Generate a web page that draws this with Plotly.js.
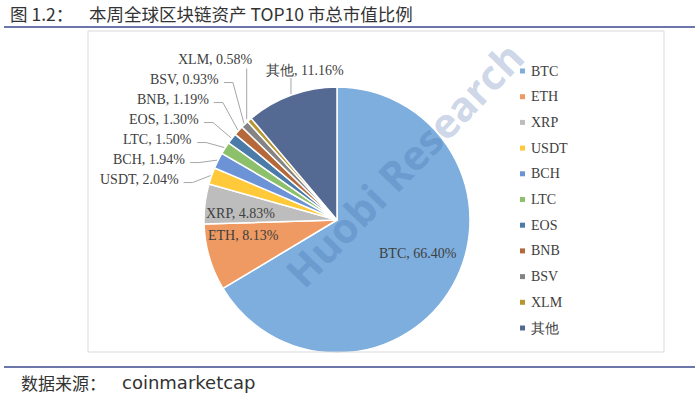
<!DOCTYPE html>
<html><head><meta charset="utf-8">
<script src="https://cdn.plot.ly/plotly-3.0.1.min.js"></script>
<style>html,body{margin:0;padding:0;background:#fff}#c{width:695px;height:397px}</style>
</head><body><div id="c"></div>
<script>
const labels = ['BTC','ETH','XRP','USDT','BCH','LTC','EOS','BNB','BSV','XLM','其他'];
const values = [66.40, 8.13, 4.83, 2.04, 1.94, 1.50, 1.30, 1.19, 0.93, 0.58, 11.16];
const colors = ['#7DAEDD','#EF9A62','#BDBDBD','#FFC93A','#6B93D6','#8DC06B','#4B7BA8','#B5693B','#848484','#B8962F','#556A93'];
const titlePrefix = '图 1.2：';
const titleText = '本周全球区块链资产 TOP10 市总市值比例';
const sourceLabel = '数据来源：';
const sourceName = 'coinmarketcap';

const W = 695, H = 397;
const px = x => x / W, py = y => 1 - y / H;
// pie geometry (pixels)
const CX = 337, CY = 220, R = 133;

const trace = {
  type: 'pie', labels: labels, values: values, sort: false,
  direction: 'clockwise', rotation: 0,
  marker: {colors: colors, line: {color: '#ffffff', width: 1.5}},
  textinfo: 'none', showlegend: false, hoverinfo: 'none',
  domain: {x: [px(CX - R), px(CX + R)], y: [py(CY + R), py(CY - R)]}
};

const labelFont = {family: 'Liberation Serif, serif', size: 14, color: '#404040'};
const titleFont = {family: 'Noto Sans CJK SC, sans-serif', size: 17.5, color: '#333333'};
const shapes = [
  {type: 'line', xref: 'paper', yref: 'paper', x0: px(4), x1: 1, y0: py(27), y1: py(27), line: {color: '#3B4A8C', width: 1.5}},
  {type: 'line', xref: 'paper', yref: 'paper', x0: px(4), x1: 1, y0: py(367), y1: py(367), line: {color: '#3B4A8C', width: 1.5}},
  {type: 'rect', xref: 'paper', yref: 'paper', x0: px(88), x1: px(664), y0: py(352), y1: py(31), line: {color: '#D9D9D9', width: 1}}
];
const annotations = [
  {xref: 'paper', yref: 'paper', x: px(8), y: py(14), xanchor: 'left', yanchor: 'middle', showarrow: false,
   text: titlePrefix, font: titleFont},
  {xref: 'paper', yref: 'paper', x: px(87), y: py(14), xanchor: 'left', yanchor: 'middle', showarrow: false,
   text: titleText, font: titleFont},
  {xref: 'paper', yref: 'paper', x: px(19), y: py(382), xanchor: 'left', yanchor: 'middle', showarrow: false,
   text: sourceLabel, font: {family: 'Noto Sans CJK SC, sans-serif', size: 17, color: '#333333'}},
  {xref: 'paper', yref: 'paper', x: px(120), y: py(382), xanchor: 'left', yanchor: 'middle', showarrow: false,
   text: sourceName, font: {family: 'DejaVu Sans, sans-serif', size: 18, color: '#333333'}},
  {xref: 'paper', yref: 'paper', x: px(404), y: py(164), xanchor: 'center', yanchor: 'middle', showarrow: false, textangle: -46,
   text: '<b>Huobi Research</b>', font: {family: 'Open Sans, sans-serif', size: 41, color: 'rgba(60,100,165,0.27)'}}
];

// slice labels, placed from the slice angles
const total = values.reduce((a, b) => a + b, 0);
let cum = 0;
const mids = values.map(v => { const m = (cum + v / 2) / total * 2 * Math.PI; cum += v; return m; });
const pt = (a, r) => [CX + r * Math.sin(a), CY - r * Math.cos(a)];
const txt = i => labels[i] + ', ' + values[i].toFixed(2) + '%';
const lineCol = '#A6A6A6';
let stackY = null;
values.forEach((v, i) => {
  const a = mids[i];
  const share = v / total;
  const deg = a * 180 / Math.PI;
  if (share > 0.04 && deg < 330) { // inside label
    const big = share > 0.5;
    const [x, y] = pt(a, R * (big ? 0.7 : 0.76));
    const yy = big ? y - 12 : CY + (y - CY) * 0.55;
    annotations.push({xref: 'paper', yref: 'paper', x: px(big ? x : x + 4), y: py(yy), xanchor: 'center', yanchor: 'middle',
      showarrow: false, text: txt(i), font: labelFont});
    return;
  }
  const [ex, ey] = pt(a, R + 1);
  if (deg > 330) { // near top: label above, vertical leader
    const ly = ey - 24;
    annotations.push({xref: 'paper', yref: 'paper', x: px(ex - 27), y: py(ly), xanchor: 'left', yanchor: 'middle', showarrow: false, text: txt(i), font: labelFont});
    shapes.push({type: 'line', xref: 'paper', yref: 'paper', x0: px(ex), x1: px(ex), y0: py(ly + 8), y1: py(ey), line: {color: lineCol, width: 1}});
    return;
  }
  const ly = stackY === null ? ey + 4 : stackY - 20;
  stackY = ly;
  if (deg > 318) { // last of the stack: label above with vertical leader
    annotations.push({xref: 'paper', yref: 'paper', x: px(ex + 6), y: py(ly), xanchor: 'right', yanchor: 'middle', showarrow: false, text: txt(i), font: labelFont});
    shapes.push({type: 'line', xref: 'paper', yref: 'paper', x0: px(ex - 2), x1: px(ex - 2), y0: py(ly + 9), y1: py(ey), line: {color: lineCol, width: 1}});
    return;
  }
  const rx = ex - 30 + (ey < 135 ? (135 - ey) * 0.6 : 0);
  annotations.push({xref: 'paper', yref: 'paper', x: px(rx), y: py(ly), xanchor: 'right', yanchor: 'middle', showarrow: false, text: txt(i), font: labelFont});
  const path = 'M' + px(rx + 3) + ',' + py(ly + 3) + ' L' + px(rx + 12) + ',' + py(ly + 3) + ' L' + px(ex) + ',' + py(ey);
  shapes.push({type: 'path', xref: 'paper', yref: 'paper', path: path, line: {color: lineCol, width: 1}});
});

// legend
labels.forEach((l, i) => {
  const y = 71 + i * 25.7;
  shapes.push({type: 'rect', xref: 'paper', yref: 'paper', x0: px(520), x1: px(525), y0: py(y + 2.5), y1: py(y - 2.5), line: {width: 0}, fillcolor: colors[i]});
  annotations.push({xref: 'paper', yref: 'paper', x: px(529), y: py(y), xanchor: 'left', yanchor: 'middle', showarrow: false,
    text: l, font: {family: 'Liberation Serif, serif', size: 14, color: '#404040'}});
});

Plotly.newPlot('c', [trace], {
  width: W, height: H, margin: {l: 0, r: 0, t: 0, b: 0},
  paper_bgcolor: '#ffffff', showlegend: false,
  shapes: shapes, annotations: annotations
}, {displayModeBar: false, staticPlot: true});
</script></body></html>
